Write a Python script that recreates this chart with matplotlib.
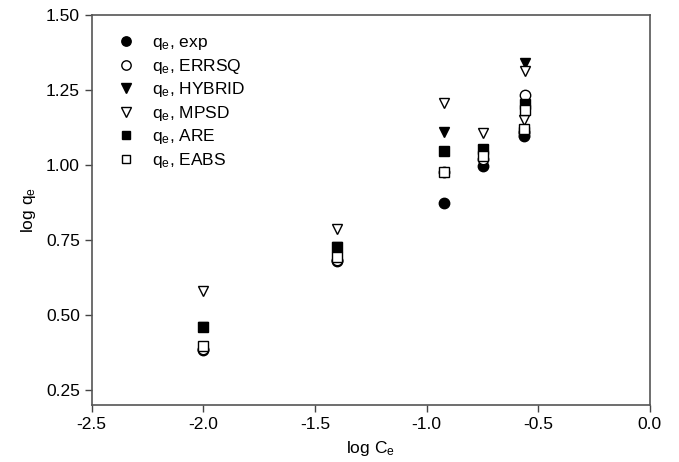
import numpy as np
import matplotlib
matplotlib.use('Agg')
import matplotlib.pyplot as plt

plt.rcParams['font.family'] = ['Liberation Sans', 'DejaVu Sans']
plt.rcParams['mathtext.fontset'] = 'custom'
plt.rcParams['mathtext.rm'] = 'Liberation Sans'
plt.rcParams['mathtext.it'] = 'Liberation Sans'

# log Ce for each series (last column has two close points)
x_exp = [-2.00, -1.40, -0.92, -0.745, -0.565]
y_exp = [0.385, 0.680, 0.874, 0.997, 1.098]

x_errsq = [-2.00, -1.40, -0.92, -0.745, -0.557, -0.565]
y_errsq = [0.388, 0.685, 0.976, 1.020, 1.232, 1.110]

x_hybrid = [-2.00, -1.40, -0.92, -0.745, -0.557]
y_hybrid = [0.460, 0.728, 1.110, 1.050, 1.339]

x_mpsd = [-2.00, -1.40, -0.92, -0.745, -0.557, -0.565]
y_mpsd = [0.579, 0.787, 1.206, 1.106, 1.312, 1.151]

x_are = [-2.00, -1.40, -0.92, -0.745, -0.557, -0.565]
y_are = [0.461, 0.728, 1.048, 1.053, 1.203, 1.110]

x_eabs = [-2.00, -1.40, -0.92, -0.745, -0.557, -0.565]
y_eabs = [0.396, 0.693, 0.978, 1.030, 1.182, 1.118]

series = [
    (x_exp, y_exp, 'o', 'black', 'exp'),
    (x_errsq, y_errsq, 'o', 'white', 'ERRSQ'),
    (x_hybrid, y_hybrid, 'v', 'black', 'HYBRID'),
    (x_mpsd, y_mpsd, 'v', 'white', 'MPSD'),
    (x_are, y_are, 's', 'black', 'ARE'),
    (x_eabs, y_eabs, 's', 'white', 'EABS'),
]

fig = plt.figure(figsize=(6.79, 4.62), dpi=100)
ax = fig.add_axes([0.135, 0.123, 0.822, 0.845])

for xs, ys, m, fc, name in series:
    ax.plot(xs, ys, linestyle='none', marker=m, markersize=7.5 if m != 's' else 6.5,
            markerfacecolor=fc, markeredgecolor='black', markeredgewidth=1.0,
            label=r'q$_\mathregular{e}$, ' + name)

ax.set_xlim(-2.5, 0.0)
ax.set_ylim(0.2, 1.5)
ax.set_xticks([-2.5, -2.0, -1.5, -1.0, -0.5, 0.0])
ax.set_xticklabels(['-2.5', '-2.0', '-1.5', '-1.0', '-0.5', '0.0'])
ax.set_yticks([0.25, 0.50, 0.75, 1.00, 1.25, 1.50])
ax.set_yticklabels(['0.25', '0.50', '0.75', '1.00', '1.25', '1.50'])
ax.tick_params(direction='out', length=5, width=1, colors='#444444',
               labelcolor='black', labelsize=12.5)
for s in ax.spines.values():
    s.set_color('#555555')
    s.set_linewidth(1.2)

ax.set_xlabel(r'log C$_\mathregular{e}$', fontsize=12.5, labelpad=5)
ax.set_ylabel(r'log q$_\mathregular{e}$', fontsize=12.5, labelpad=6)

ax.legend(loc='upper left', bbox_to_anchor=(0.011, 0.992), frameon=False,
          fontsize=12.5, handletextpad=0.9, labelspacing=0.26,
          borderaxespad=0.6, handlelength=1.2, markerscale=0.9)

plt.savefig('out.png', dpi=100)
